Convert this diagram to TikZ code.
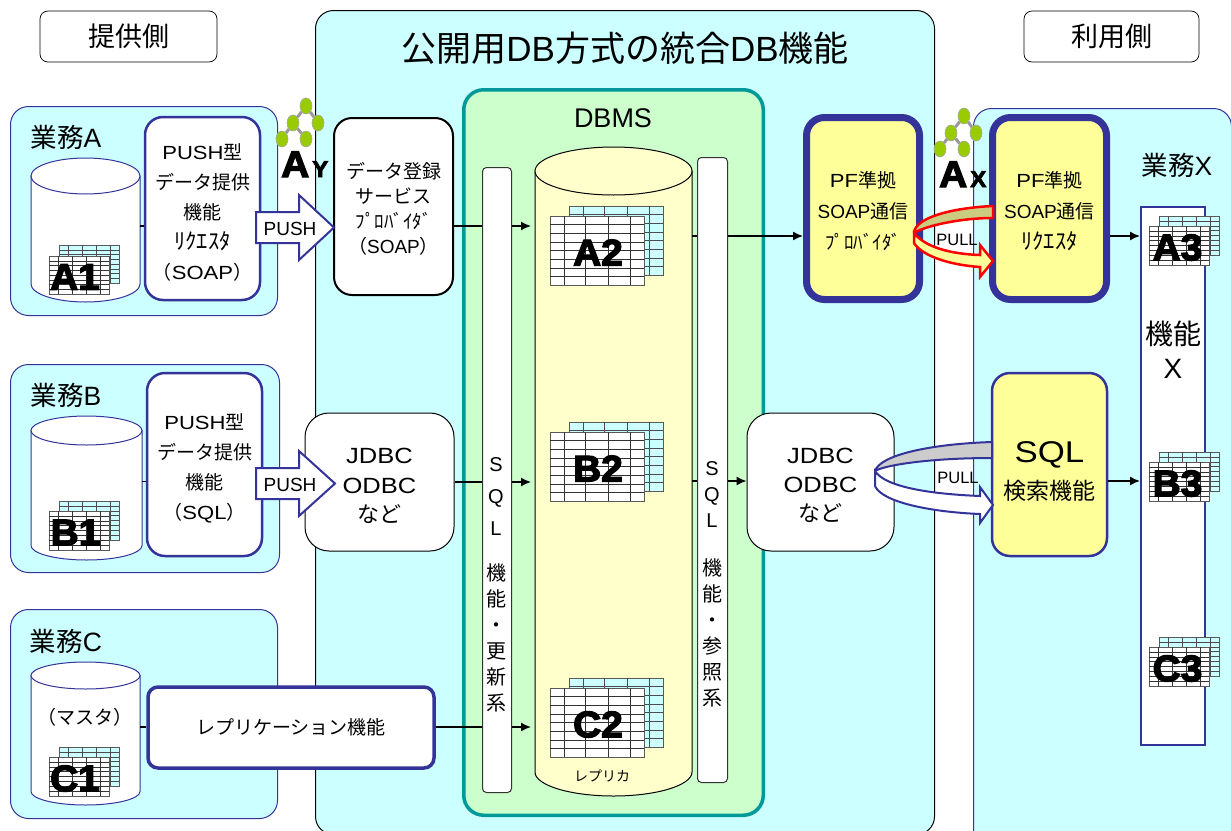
\documentclass[tikz,border=0pt]{standalone}
\usepackage{fontspec}
\usetikzlibrary{shapes.geometric,arrows.meta}
\setmainfont{Liberation Sans}
\newfontfamily\jpfont{Noto Sans CJK JP}
\newfontfamily\widefont[FakeStretch=1.16]{Liberation Sans}
\newfontfamily\blackfont[UprightFont=* Bold,FakeStretch=1.05,FakeBold=3.5]{Liberation Sans}
\newcommand{\ja}[1]{{\jpfont #1}}
\newcommand{\wt}[1]{{\widefont #1}}
\newcommand{\fsz}[2]{\fontsize{#1}{#2}\selectfont}
\definecolor{panelcyan}{HTML}{CCFFFF}
\definecolor{bizblue}{HTML}{333399}
\definecolor{dbgreen}{HTML}{CCFFCC}
\definecolor{dbteal}{HTML}{009999}
\definecolor{softyellow}{HTML}{FFFF99}
\definecolor{paleyellow}{HTML}{FFFFCC}
\definecolor{leafgreen}{HTML}{99CC00}
\definecolor{bandolive}{HTML}{CCCC80}
\tikzset{
  conn/.style={line width=1.5pt,-{Latex[length=10pt,width=9pt]}},
  plainconn/.style={line width=1.5pt},
  bizbox/.style={draw=bizblue,fill=panelcyan,line width=1pt,rounded corners=18pt,inner sep=0pt},
  funcbox/.style={draw=bizblue,fill=white,line width=2.5pt,rounded corners=18pt,inner sep=0pt},
  blackbox/.style={draw=black,fill=white,line width=1pt,rounded corners=24pt,inner sep=0pt},
  pfbox/.style={draw=bizblue,fill=softyellow,line width=7pt,rounded corners=18pt,inner sep=0pt},
  sidebox/.style={draw=black,fill=white,line width=0.7pt,rounded corners=8pt,inner sep=0pt},
  sqlbar/.style={draw=black!80,fill=white,line width=1pt,rounded corners=4pt,inner sep=0pt,anchor=north west},
  drum/.style={draw=bizblue,fill=white,line width=1pt},
  pusharrow/.style={draw=bizblue,fill=white,line width=2pt,line join=miter},
  sheetfront/.style={draw=black!65,fill=white,line width=0.6pt,inner sep=0pt,anchor=north west},
  sheetback/.style={draw=black!65,fill=panelcyan,line width=0.6pt,inner sep=0pt,anchor=north west},
  sheetlabel/.style={font=\blackfont\fsz{37}{37},inner sep=0pt},
  leaf/.style={shape=ellipse,draw=black!35,fill=leafgreen,line width=0.6pt,inner sep=0pt,minimum width=12pt,minimum height=16pt},
  twig/.style={draw=black!40,line width=3pt},
  txt/.style={inner sep=0pt,align=center},
}
% drum: name, left, right, top, bottom, end radius, style
\newcommand{\dbdrum}[7]{
  \node[inner sep=0pt,minimum width={(#3-#2)*1pt},minimum height={(#5-#4)*1pt}] (#1) at ({(#2+#3)/2},{(#4+#5)/2}) {};
  \draw[drum,#7] (#2,{#4+#6}) -- (#2,{#5-#6}) arc[start angle=180,end angle=360,x radius={(#3-#2)/2*1pt},y radius=#6pt] -- (#3,{#4+#6}) -- cycle;
  \draw[drum,#7] ({(#2+#3)/2},{#4+#6}) ellipse ({(#3-#2)/2*1pt} and #6pt);
}
% sheet pair: name, x, y of the front sheet, width, height, back shift, label, label x
\newcommand{\sheetpair}[9]{
  \node[sheetback,minimum width=#4pt,minimum height=#5pt] (#1back) at ({#2+#6},{#3-#7}) {};
  \foreach \cx in {.15,.38,.62,.85}
    \draw[black!70,line width=0.5pt] ({#2+#6+\cx*#4},{#3-#7}) -- ({#2+#6+\cx*#4},{#3-#7+#5});
  \foreach \cy in {1,...,7}
    \draw[black!70,line width=0.5pt] ({#2+#6},{#3-#7+\cy*#5/8}) -- ({#2+#6+#4},{#3-#7+\cy*#5/8});
  \node[sheetfront,minimum width=#4pt,minimum height=#5pt] (#1) at (#2,#3) {};
  \foreach \cx in {.15,.38,.62,.85}
    \draw[black!80,line width=0.5pt] ({#2+\cx*#4},#3) -- ({#2+\cx*#4},{#3+#5});
  \foreach \cy in {1,...,7}
    \draw[black!80,line width=0.5pt] (#2,{#3+\cy*#5/8}) -- ({#2+#4},{#3+\cy*#5/8});
  \node[sheetlabel] (#1lbl) at (#9,{#3+.5*#5+2}) {#8};
}
% tree icon: name, x, y of its top leaf, small letter
\newcommand{\treeicon}[4]{
  \node[leaf] (#1t) at (#2,#3) {};
  \node[leaf] (#1l) at ({#2-13},{#3+17}) {};
  \node[leaf] (#1r) at ({#2+12},{#3+17}) {};
  \node[leaf] (#1a) at ({#2-24},{#3+33}) {};
  \node[leaf] (#1b) at (#2,{#3+33}) {};
  \draw[twig] (#1t) -- (#1l);
  \draw[twig] (#1t) -- (#1r);
  \draw[twig] (#1l) -- (#1a);
  \draw[twig] (#1l) -- (#1b);
  \node[txt,anchor=base west] (#1lbl) at ({#2-25},{#3+71}) {\blackfont\fsz{37}{37}A\kern3pt\fsz{23}{23}#4};
}
\begin{document}
\begin{tikzpicture}[x=1pt,y=-1pt]
\useasboundingbox (0,0) rectangle (1231,830);
\clip (0,0) rectangle (1231,830);

\node[sidebox,minimum width=177pt,minimum height=51pt,font=\fsz{27}{27}] (provider) at (128.5,36.5) {\ja{提供側}};
\node[sidebox,minimum width=175pt,minimum height=51pt,font=\fsz{27}{27}] (consumer) at (1111.5,36.5) {\ja{利用側}};

\node[bizbox,draw=black,minimum width=619pt,minimum height=824pt,anchor=north west] (mainpanel) at (315,10) {};
\node[txt,font=\fsz{35}{35}] (maintitle) at (625,48) {\ja{公開用}DB\ja{方式の統合}DB\ja{機能}};

\node[bizbox,minimum width=267pt,minimum height=209pt,anchor=north west] (bizA) at (10,106) {};
\node[bizbox,minimum width=269pt,minimum height=208pt,anchor=north west] (bizB) at (10,364) {};
\node[bizbox,minimum width=267pt,minimum height=209pt,anchor=north west] (bizC) at (10,609) {};
\node[bizbox,minimum width=258pt,minimum height=740pt,anchor=north west] (bizX) at (973,108) {};
\node[txt,font=\fsz{26.5}{27}] (bizAlbl) at (66,137) {\ja{業務}A};
\node[txt,font=\fsz{26.5}{27}] (bizBlbl) at (66,395) {\ja{業務}B};
\node[txt,font=\fsz{26.5}{27}] (bizClbl) at (66,641) {\ja{業務}C};
\node[txt,font=\fsz{26.5}{27}] (bizXlbl) at (1177,165) {\ja{業務}X};

\node[bizbox,draw=dbteal,fill=dbgreen,line width=3.5pt,rounded corners=20pt,minimum width=299.5pt,minimum height=725.5pt,anchor=north west] (dbms) at (462,88) {};
\node[txt,font=\fsz{27}{27}] (dbmslbl) at (613,118) {DBMS};

\coordinate (inA) at (531,226);
\coordinate (inB) at (531,482);
\coordinate (inC) at (531,727);
\dbdrum{bigdb}{535}{692}{147}{796}{24}{draw=black,fill=paleyellow}
\node[txt,font=\fsz{14}{14}] (replica) at (602,776) {\ja{レプリカ}};
\node[sqlbar,minimum width=29pt,minimum height=625pt] (sqlup) at (482,167) {};
\node[sqlbar,minimum width=30pt,minimum height=625pt] (sqlref) at (697,157) {};
\node[txt,font=\fsz{20}{26}] (sqluplbl) at (496,585) {S\\[6pt]Q\\[6pt]L\\[19pt]\ja{機}\\\ja{能}\\\ja{・}\\\ja{更}\\\ja{新}\\\ja{系}};
\node[txt,font=\fsz{20}{26}] (sqlreflbl) at (712,584) {S\\Q\\L\\[22pt]\ja{機}\\\ja{能}\\\ja{・}\\\ja{参}\\\ja{照}\\\ja{系}};

\dbdrum{cylA}{31}{140}{158}{302}{18}{}
\dbdrum{cylB}{31}{142}{416}{560}{14.5}{}
\dbdrum{cylC}{31}{140}{662}{805}{13.5}{}
\node[txt,font=\fsz{19}{19}] (master) at (85,717) {\ja{（マスタ）}};

\node[funcbox,minimum width=115pt,minimum height=183pt] (pushA) at (202.5,208.5) {};
\node[txt,font=\fsz{19}{30}] (pushAtxt) at (202.5,212) {\wt{PUSH}\ja{型}\\\ja{データ提供}\\\ja{機能}\\\fsz{22.5}{30}\ja{ﾘｸｴｽﾀ}\\\ja{（}\wt{SOAP}\ja{）}};
\node[funcbox,minimum width=115pt,minimum height=183pt] (pushB) at (204.5,464.5) {};
\node[txt,font=\fsz{19}{30}] (pushBtxt) at (204.5,468) {\wt{PUSH}\ja{型}\\\ja{データ提供}\\\ja{機能}\\\ja{（}\wt{SQL}\ja{）}};
\node[funcbox,font=\fsz{19}{19},line width=3.5pt,rounded corners=10pt,minimum width=286pt,minimum height=81pt] (replic) at (291,727.5) {\ja{レプリケーション機能}};

\coordinate (linkA) at (140,226);
\coordinate (linkB) at (142,481.5);
\draw[plainconn] (linkA) -- (pushA.west |- linkA);
\draw[plainconn] (linkB) -- (pushB.west |- linkB);
\draw[plainconn] (cylC.east |- inC) -- (replic.west |- inC);

\node[blackbox,line width=2pt,rounded corners=18pt,minimum width=119pt,minimum height=177pt] (datareg) at (393.5,206.5) {};
\node[txt,font=\fsz{19}{25}] (dataregtxt) at (393.5,208.5) {\ja{データ登録}\\\ja{サービス}\\\ja{ﾌﾟﾛﾊﾞｲﾀﾞ}\\\ja{（}SOAP\ja{）}};
\node[blackbox,minimum width=149pt,minimum height=138pt] (jdbcL) at (379.5,482) {};
\node[txt,font=\fsz{22}{29.5}] (jdbcLtxt) at (379.5,486) {\wt{JDBC}\\\wt{ODBC}\\\ja{など}};
\node[blackbox,minimum width=147pt,minimum height=138pt] (jdbcR) at (820.5,482) {};
\node[txt,font=\fsz{22}{29}] (jdbcRtxt) at (820.5,485) {\wt{JDBC}\\\wt{ODBC}\\\ja{など}};

\draw[pusharrow] (256,212) -- (299,212) -- (299,195) -- (334,227.5) -- (299,260) -- (299,243) -- (256,243) -- cycle;
\draw[pusharrow] (256,468) -- (299,468) -- (299,451) -- (335,483.5) -- (299,516) -- (299,499) -- (256,499) -- cycle;
\node[txt,font=\fsz{19}{19}] (pushAlbl) at (290,229) {PUSH};
\node[txt,font=\fsz{19}{19}] (pushBlbl) at (290,485) {PUSH};

\node[pfbox,minimum width=113pt,minimum height=182pt] (pfprov) at (863,208.5) {};
\node[txt,font=\fsz{19}{31}] (pfprovtxt) at (863,211.5) {\wt{PF}\ja{準拠}\\SOAP\ja{通信}\\\ja{ﾌﾟﾛﾊﾞｲﾀﾞ}};
\node[pfbox,minimum width=114pt,minimum height=182pt] (pfreq) at (1049.5,208.5) {};
\node[txt,font=\fsz{19}{31}] (pfreqtxt) at (1049.5,211.5) {\wt{PF}\ja{準拠}\\SOAP\ja{通信}\\\fsz{22.5}{31}\ja{ﾘｸｴｽﾀ}};
\node[funcbox,fill=softyellow,minimum width=115pt,minimum height=183pt] (sqlfunc) at (1049.5,464.5) {};
\node[txt,font=\fsz{30}{37}] (sqlfunctxt) at (1049.5,471) {\wt{SQL}\\\fsz{23}{37}\ja{検索機能}};

\node[bizbox,fill=white,rounded corners=0pt,line width=1.5pt,minimum width=64pt,minimum height=538pt,anchor=north west] (funcX) at (1140,206) {};
\node[txt,font=\fsz{28}{34}] (funcXlbl) at (1173,350) {\ja{機能}\\X};

\draw[plainconn] (datareg.east |- inA) -- (sqlup.west |- inA);
\draw[conn] (sqlup.east |- inA) -- (inA);
\draw[plainconn] (jdbcL.east |- inB) -- (sqlup.west |- inB);
\draw[conn] (sqlup.east |- inB) -- (inB);
\draw[plainconn] (replic.east |- inC) -- (sqlup.west |- inC);
\draw[conn] (sqlup.east |- inC) -- (inC);

\coordinate (outA) at (692,236);
\coordinate (outB) at (692,481);
\draw[plainconn] (outA) -- (sqlref.west |- outA);
\draw[conn] (sqlref.east |- outA) -- (pfprov.west |- outA);
\draw[plainconn] (outB) -- (sqlref.west |- outB);
\draw[conn] (sqlref.east |- outB) -- (jdbcR.west |- outB);
\draw[conn] (pfreq.east |- outA) -- (funcX.west |- outA);
\draw[conn] (sqlfunc.east |- outB) -- (funcX.west |- outB);

\sheetpair{sheetAone}{49}{256}{60}{38}{10}{11}{A1}{75}
\sheetpair{sheetBone}{49}{511}{60}{39}{10}{10}{B1}{75.5}
\sheetpair{sheetCone}{49}{757}{60}{39}{10}{10}{C1}{75}
\sheetpair{sheetAtwo}{550}{216}{94}{69}{19}{10}{A2}{598}
\sheetpair{sheetBtwo}{550}{432}{94}{69}{19}{10}{B2}{598}
\sheetpair{sheetCtwo}{550}{688}{94}{69}{19}{10}{C2}{598}
\sheetpair{sheetAthree}{1149}{226}{60}{39}{10}{10}{A3}{1177.5}
\sheetpair{sheetBthree}{1149}{462}{60}{39}{10}{10}{B3}{1177.5}
\sheetpair{sheetCthree}{1149}{647}{60}{39}{10}{10}{C3}{1177.5}

\treeicon{treeY}{306}{106}{Y}
\treeicon{treeX}{964}{116}{X}

% curved pull arrows
\draw[draw=red,fill=bandolive,line width=2.5pt,line join=round] (993,206) .. controls (950,208) and (915,218) .. (914,233) .. controls (925,226) and (960,218) .. (993,218) -- cycle;
\draw[draw=red,fill=softyellow,line width=2.5pt,line join=miter] (914,233) -- (914,243) .. controls (922,256) and (950,265) .. (980,267) -- (980,277) -- (993,261) -- (980,245) -- (980,255) .. controls (950,254) and (925,247) .. cycle;
\draw[draw=bizblue,fill=black!20,line width=2pt,line join=round] (992,442) .. controls (930,444) and (880,455) .. (875,471) .. controls (885,465) and (930,458) .. (992,458) -- cycle;
\draw[draw=bizblue,fill=white,line width=2pt,line join=miter] (875,471) -- (875,486) .. controls (882,502) and (930,512) .. (980,514) -- (980,523) -- (993,505) -- (980,487) -- (980,496) .. controls (930,494) and (885,487) .. cycle;
\node[txt,font=\fsz{16.5}{17}] (pullA) at (957,240) {PULL};
\node[txt,font=\fsz{16.5}{17}] (pullB) at (958,478) {PULL};
\end{tikzpicture}
\end{document}
